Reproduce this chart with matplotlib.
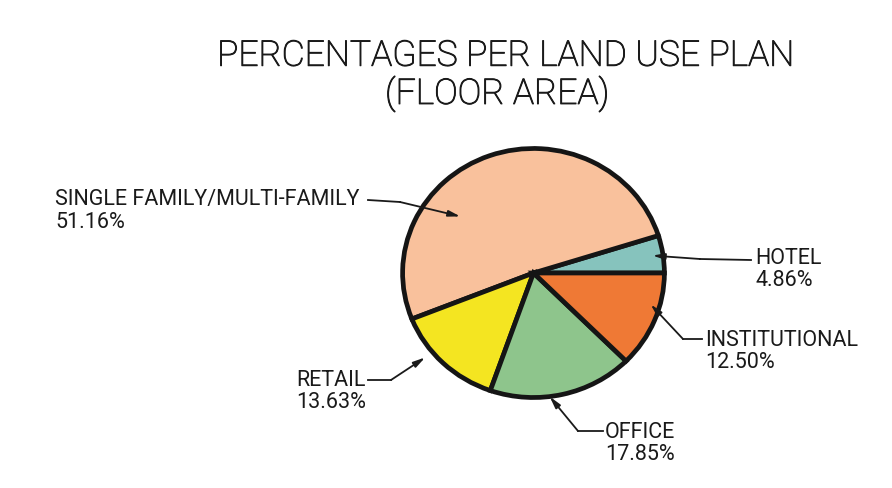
import numpy as np
import matplotlib.pyplot as plt
import matplotlib.patheffects as pe

# Floor area share per land use (%), counterclockwise from 3 o'clock
labels = ["HOTEL", "SINGLE FAMILY/MULTI-FAMILY", "RETAIL", "OFFICE", "INSTITUTIONAL"]
values = [4.86, 51.16, 13.63, 17.85, 12.50]
colors = ["#86c3bd", "#f9c19c", "#f4e521", "#8ec58c", "#ef7935"]

W, H = 892, 489
plt.rcParams["font.family"] = ["Roboto", "DejaVu Sans"]
INK = "#1a1a1a"

fig = plt.figure(figsize=(W / 100, H / 100), dpi=100)
bg = fig.add_axes([0, 0, 1, 1])
bg.set_xlim(0, W)
bg.set_ylim(H, 0)
bg.axis("off")

# pie placed in its own axes (pixel box: left, top, right, bottom)
px0, py0, px1, py1 = 400, 147, 667, 401
pax = fig.add_axes([px0 / W, 1 - py1 / H, (px1 - px0) / W, (py1 - py0) / H])
wedges, _ = pax.pie(values, colors=colors, startangle=0, counterclock=True,
                    radius=1.0,
                    wedgeprops=dict(edgecolor="#151515", linewidth=3.4, joinstyle="miter"))
pax.set_xlim(-1.02, 1.02)
pax.set_ylim(-1.02, 1.02)
pax.set_aspect("auto")
pax.axis("off")

# light title with a thin outline so the strokes read like plotter lines
title_fx = [pe.withStroke(linewidth=0.7, foreground=INK)]
fig.text(506 / W, 1 - 57 / H, "PERCENTAGES PER LAND USE PLAN", ha="center", va="center",
         fontsize=25.5, fontweight="light", color=INK, path_effects=title_fx)
fig.text(497 / W, 1 - 95 / H, "(FLOOR AREA)", ha="center", va="center",
         fontsize=25.5, fontweight="light", color=INK, path_effects=title_fx)

# label layout: text origin (px), leader start, elbow, position of tip inside wedge
layout = {
    "SINGLE FAMILY/MULTI-FAMILY": dict(text=(55, 200), start=(368, 201), elbow=(400, 203), t=0.67, rho=0.72),
    "HOTEL": dict(text=(755, 258), start=(751, 261), elbow=(700, 260), t=0.5, rho=0.92),
    "INSTITUTIONAL": dict(text=(705, 340), start=(702, 340), elbow=(683, 340), t=0.65, rho=0.93),
    "RETAIL": dict(text=(296, 381), start=(368, 381), elbow=(391, 381), t=0.36, rho=1.07),
    "OFFICE": dict(text=(605, 433), start=(603, 432), elbow=(578, 432), t=0.41, rho=1.0),
}

for w, name, v in zip(wedges, labels, values):
    lay = layout[name]
    tx, ty = lay["text"]
    bg.text(tx, ty, name, ha="left", va="center", fontsize=15.5, color=INK)
    bg.text(tx, ty + 22, f"{v:.2f}%", ha="left", va="center", fontsize=15.5, color=INK)
    sx, sy = lay["start"]
    ex, ey = lay["elbow"]
    bg.plot([sx, ex], [sy, ey], color=INK, lw=1.3)
    ang = np.deg2rad(w.theta1 + lay["t"] * (w.theta2 - w.theta1))
    tip = (lay["rho"] * np.cos(ang), lay["rho"] * np.sin(ang))
    pax.annotate("", xy=tip, xytext=(ex, H - ey), textcoords="figure pixels",
                 annotation_clip=False,
                 arrowprops=dict(arrowstyle="-|>,head_length=0.7,head_width=0.18",
                                 color=INK, lw=1.3, shrinkA=0, shrinkB=0))

fig.savefig("out.png", dpi=100, facecolor="white")
